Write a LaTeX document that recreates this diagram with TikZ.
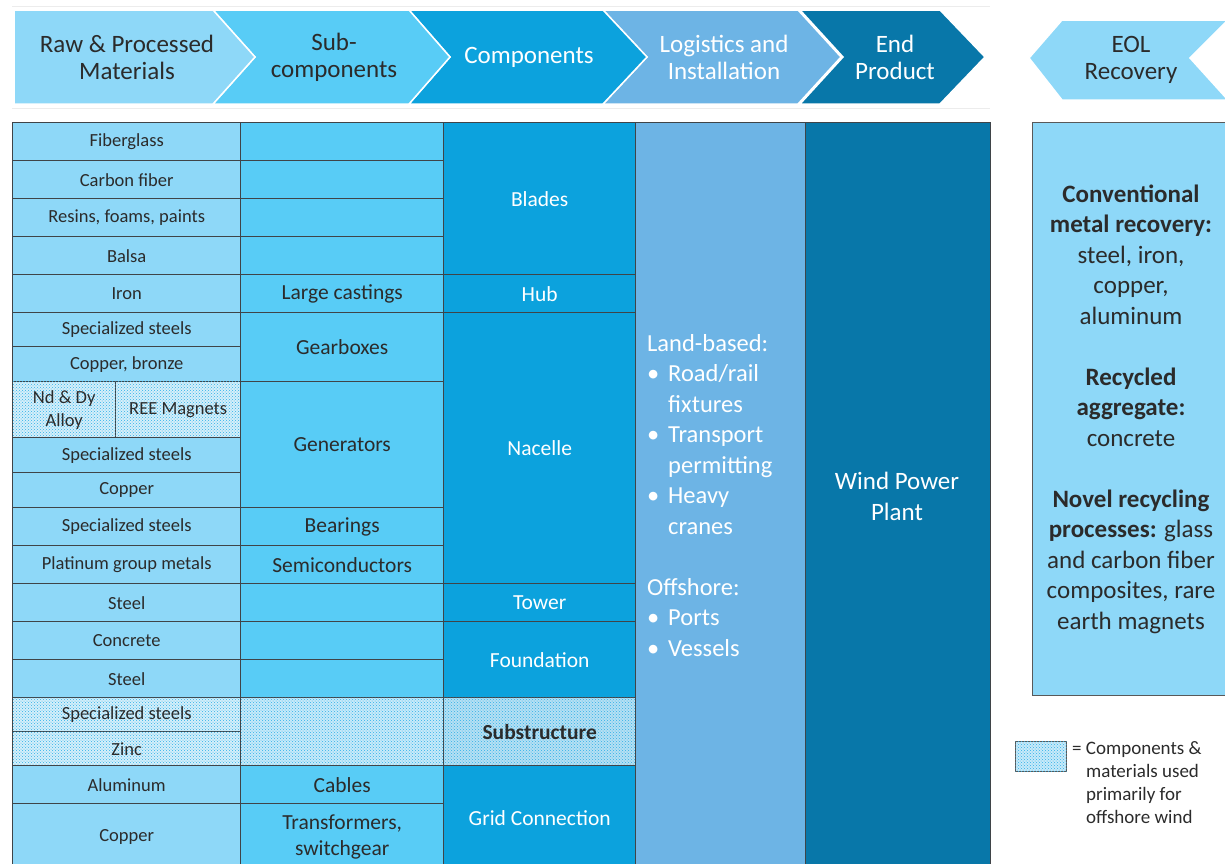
\documentclass[tikz,border=0pt]{standalone}
\usepackage{fontspec}
\setmainfont{Carlito}
\usetikzlibrary{patterns}

\definecolor{rawc}{HTML}{8ED8F8}
\definecolor{subc}{HTML}{58CCF6}
\definecolor{compc}{HTML}{0CA2DD}
\definecolor{logc}{HTML}{6DB4E5}
\definecolor{endc}{HTML}{0877A9}
\definecolor{gridc}{HTML}{3F4448}
\definecolor{txtc}{HTML}{2B2B2B}
\definecolor{offa}{HTML}{D5EFFA}
\definecolor{offb}{HTML}{C8EAF9}
\definecolor{offc}{HTML}{B6E0F3}
\definecolor{dotc}{HTML}{2FB0E8}

\newcommand{\itm}{\makebox[21pt][l]{\textbullet}}
\newcommand{\cnt}{\hspace*{21pt}}

\begin{document}
\begin{tikzpicture}[x=1pt,y=-1pt,
                    cell/.style={draw=gridc,line width=1.4pt,anchor=north west,inner sep=0pt,align=center},
                    colA/.style={cell,fill=rawc,text=txtc,minimum width=228,font=\fontsize{18.5}{23}\selectfont},
                    colB/.style={cell,fill=subc,text=txtc,minimum width=203,font=\fontsize{21.5}{26}\selectfont},
                    colC/.style={cell,fill=compc,text=white,minimum width=192,font=\fontsize{21.5}{26}\selectfont},
                    offshore/.style={postaction={pattern=crosshatch dots,pattern color=dotc}},
                    chev/.style={draw=white,line width=1.5pt,line join=miter},
                    hdr/.style={align=center,inner sep=0pt,font=\fontsize{25}{27}\selectfont}]

	\useasboundingbox (0,0) rectangle (1225,863);

	% header chevrons
	\draw[gray!15,line width=0.8pt] (12,6) -- (990,6) (12,108) -- (990,108);
	\draw[chev,fill=endc]  (800,10) -- (940,10) -- (985,57) -- (940,104) -- (800,104) -- (843,57) -- cycle;
	\draw[chev,fill=logc]  (603,10) -- (798,10) -- (841,57) -- (798,104) -- (603,104) -- (647,57) -- cycle;
	\draw[chev,fill=compc] (409,10) -- (603,10) -- (647,57) -- (603,104) -- (409,104) -- (450,57) -- cycle;
	\draw[chev,fill=subc]  (213,10) -- (409,10) -- (450,57) -- (409,104) -- (213,104) -- (255,57) -- cycle;
	\draw[chev,fill=rawc]  (14,10) -- (213,10) -- (255,57) -- (213,104) -- (14,104) -- cycle;
	\draw[chev,fill=rawc]  (1029,58) -- (1062,20) -- (1228,20) -- (1190,58) -- (1228,100) -- (1062,100) -- cycle;

	\node[hdr,text=txtc]  (raw)  at (127,57)  {Raw \& Processed\\Materials};
	\node[hdr,text=txtc]  (sub)  at (334,57)  {Sub-\\components};
	\node[hdr,text=white] (comp) at (529,57)  {Components};
	\node[hdr,text=white] (logi) at (724,57)  {Logistics and\\Installation};
	\node[hdr,text=white] (endp) at (895,57)  {End\\Product};
	\node[hdr,text=txtc]  (eol)  at (1131,60) {EOL\\Recovery};

	% raw and processed materials
	\node[colA,minimum height=38] (fib)   at (12,122) {Fiberglass};
	\node[colA,minimum height=38] (carb)  at (12,160) {Carbon fiber};
	\node[colA,minimum height=38] (resin) at (12,198) {Resins, foams, paints};
	\node[colA,minimum height=38] (balsa) at (12,236) {Balsa};
	\node[colA,minimum height=38] (iron)  at (12,274) {Iron};
	\node[colA,minimum height=34] (sstA)  at (12,312) {Specialized steels};
	\node[colA,minimum height=35] (cubr)  at (12,346) {Copper, bronze};
	\node[colA,fill=offa,offshore,minimum width=103,minimum height=56] (ndy) at (12,381)  {Nd \& Dy\\Alloy};
	\node[colA,fill=offa,offshore,minimum width=125,minimum height=56] (ree) at (115,381) {REE Magnets};
	\node[colA,minimum height=35] (sstB)  at (12,437) {Specialized steels};
	\node[colA,minimum height=35] (cuA)   at (12,472) {Copper};
	\node[colA,minimum height=38] (sstC)  at (12,507) {Specialized steels};
	\node[colA,minimum height=38] (pgm)   at (12,545) {Platinum group metals};
	\node[colA,minimum height=38] (stA)   at (12,583) {Steel};
	\node[colA,minimum height=38] (conc)  at (12,621) {Concrete};
	\node[colA,minimum height=38] (stB)   at (12,659) {Steel};
	\node[colA,fill=offa,offshore,minimum height=34] (sstD) at (12,697) {Specialized steels};
	\node[colA,fill=offa,offshore,minimum height=34] (zinc) at (12,731) {Zinc};
	\node[colA,minimum height=38] (alu)   at (12,765) {Aluminum};
	\node[colA,minimum height=66] (cuB)   at (12,803) {Copper};

	% sub-components
	\node[colB,minimum height=38]  (bA)    at (240,122) {};
	\node[colB,minimum height=38]  (bB)    at (240,160) {};
	\node[colB,minimum height=38]  (bC)    at (240,198) {};
	\node[colB,minimum height=38]  (bD)    at (240,236) {};
	\node[colB,minimum height=38]  (cast)  at (240,274) {Large castings};
	\node[colB,minimum height=69]  (gear)  at (240,312) {Gearboxes};
	\node[colB,minimum height=126] (gen)   at (240,381) {Generators};
	\node[colB,minimum height=38]  (bear)  at (240,507) {Bearings};
	\node[colB,minimum height=38]  (semi)  at (240,545) {Semiconductors};
	\node[colB,minimum height=38]  (bE)    at (240,583) {};
	\node[colB,minimum height=38]  (bF)    at (240,621) {};
	\node[colB,minimum height=38]  (bG)    at (240,659) {};
	\node[colB,fill=offb,offshore,minimum height=68] (bH) at (240,697) {};
	\node[colB,minimum height=38]  (cab)   at (240,765) {Cables};
	\node[colB,minimum height=66]  (trans) at (240,803) {Transformers,\\switchgear};

	% components
	\node[colC,minimum height=152] (blade) at (443,122) {Blades};
	\node[colC,minimum height=38]  (hub)   at (443,274) {Hub};
	\node[colC,minimum height=271] (nac)   at (443,312) {Nacelle};
	\node[colC,minimum height=38]  (tower) at (443,583) {Tower};
	\node[colC,minimum height=76]  (found) at (443,621) {Foundation};
	\node[colC,fill=offc,offshore,text=txtc,minimum height=68] (subst) at (443,697) {\bfseries Substructure};
	\node[colC,minimum height=104] (grid)  at (443,765) {Grid Connection};

	% logistics, end product
	\node[cell,fill=logc,minimum width=170,minimum height=750] (logcol) at (635,122) {};
	\node[cell,fill=endc,minimum width=185,minimum height=750] (endcol) at (805,122) {};

	\node[anchor=north west,align=left,inner sep=0pt,text=white,font=\fontsize{24.5}{30.5}\selectfont] (logtxt) at (647,334)
		{Land-based:\\ \itm Road/rail\\ \cnt fixtures\\ \itm Transport\\ \cnt permitting\\ \itm Heavy\\ \cnt cranes\\[30.5pt]
		 Offshore:\\ \itm Ports\\ \itm Vessels};
	\node[align=center,inner sep=0pt,text=white,font=\fontsize{25}{31}\selectfont] (wpp) at (897,496) {Wind Power\\Plant};

	% end of life recovery
	\node[cell,draw=gray!70!black,line width=1pt,fill=rawc,minimum width=200,minimum height=573] (eolbox) at (1032,122) {};
	\node[align=center,inner sep=0pt,text=txtc,font=\fontsize{25}{30.5}\selectfont] (eoltxt) at (1131,409)
		{\bfseries Conventional\\ \bfseries metal recovery:\\ steel, iron,\\ copper,\\ aluminum\\[30.5pt]
		 \bfseries Recycled\\ \bfseries aggregate:\\ concrete\\[30.5pt]
		 \bfseries Novel recycling\\ \textbf{processes:} glass\\ and carbon fiber\\ composites, rare\\ earth magnets};

	% legend
	\node[draw=gray!70!black,line width=1pt,fill=offb,offshore,anchor=north west,minimum width=51,minimum height=30,inner sep=0pt] (key) at (1015,741) {};
	\node[anchor=north west,align=left,inner sep=0pt,text=txtc,font=\fontsize{19}{23}\selectfont] (keytxt) at (1072,741)
		{= Components \&\\ \hspace*{14pt}materials used\\ \hspace*{14pt}primarily for\\ \hspace*{14pt}offshore wind};

\end{tikzpicture}
\end{document}
